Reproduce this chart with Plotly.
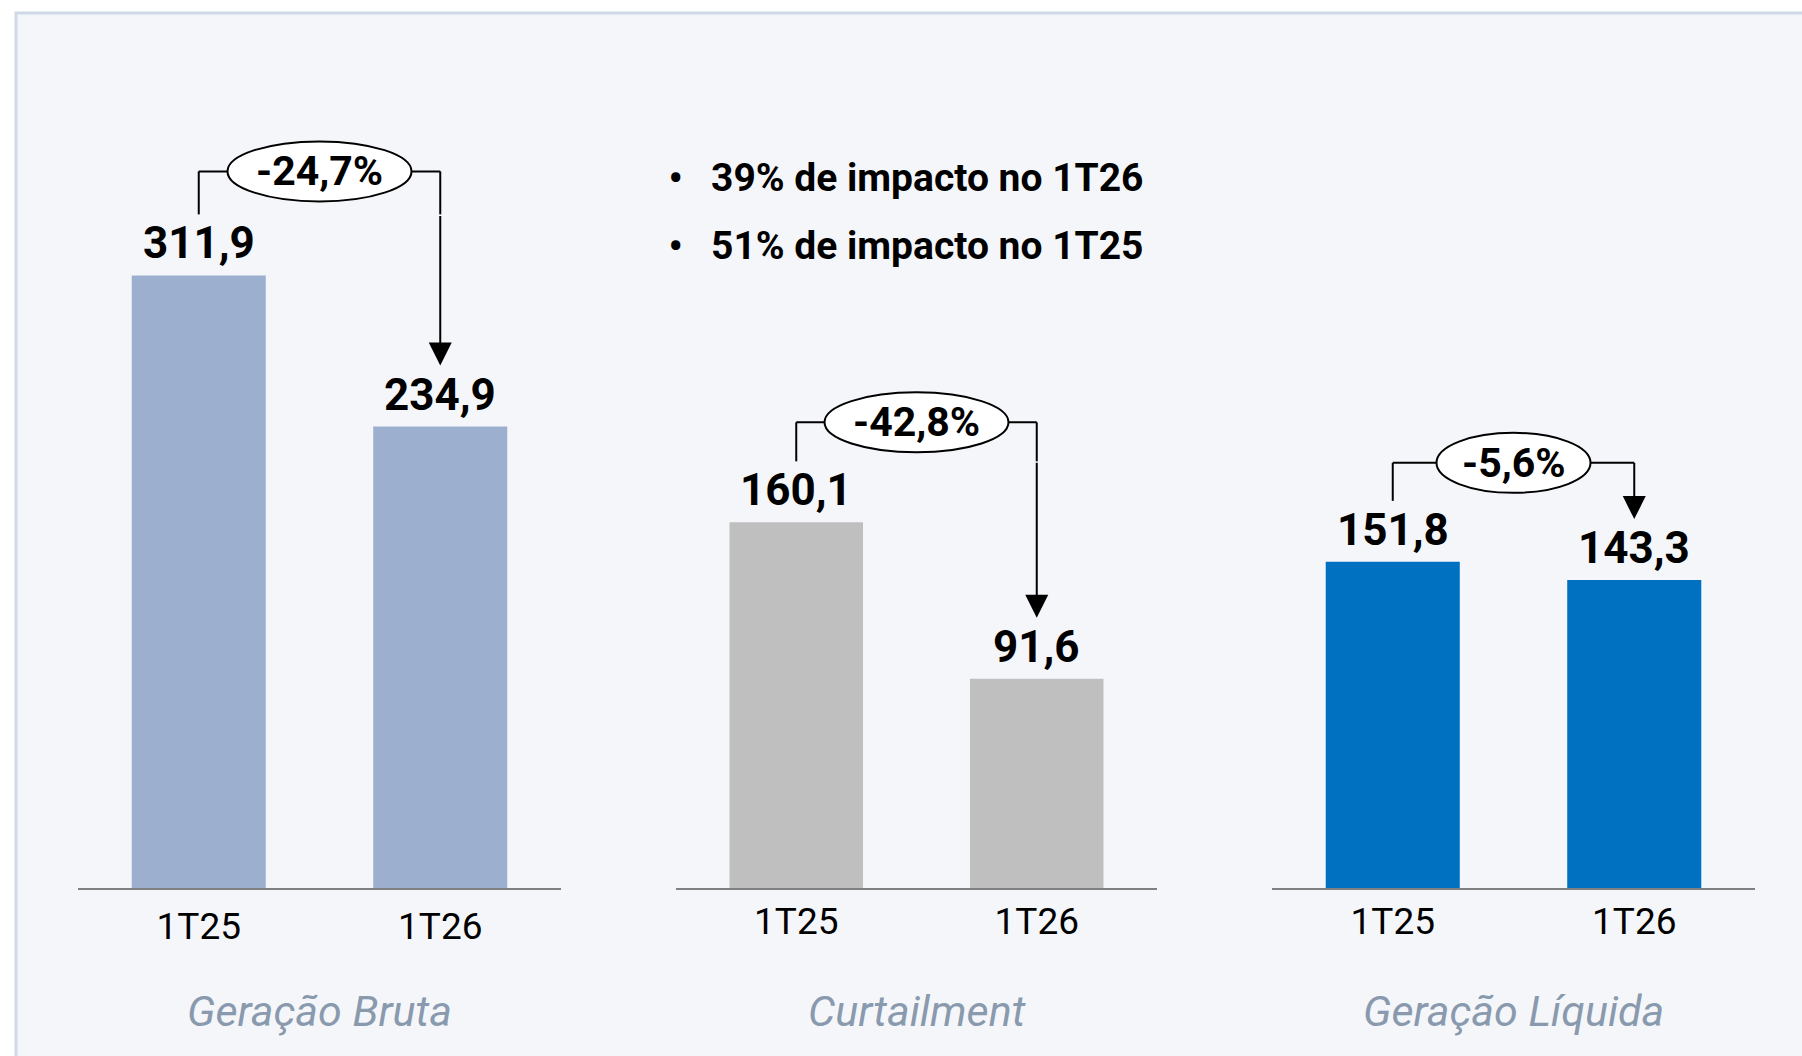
import plotly.graph_objects as go

# ---------------- data ----------------
panels = ["Geração Bruta", "Curtailment", "Geração Líquida"]
periods = ["1T25", "1T26"]
geracao_bruta = [311.9, 234.9]
curtailment = [160.1, 91.6]
geracao_liquida = [151.8, 143.3]
variacoes = ["-24,7%", "-42,8%", "-5,6%"]
notas = ["39% de impacto no 1T26", "51% de impacto no 1T25"]

series = [geracao_bruta, curtailment, geracao_liquida]

# ---------------- layout / style ----------------
W, H = 1802, 1056
colors = ["#9DAFCE", "#BFBFBF", "#0070C0"]
x_domains_px = [(78, 561), (676, 1157), (1272, 1755)]
baseline_px = 888
y_max = [452.1, 388.8, 413.3]
tick_standoff = [5, 0, 0]
bracket_high = [104, 100, 99]
FONT_B = "Roboto"
bar_width = 0.555

fig = go.Figure()

def fmt(v):
    return f"{v:.1f}".replace(".", ",")

y_dom = [1 - baseline_px / H, 1]

for i, (name, vals) in enumerate(zip(panels, series)):
    sfx = "" if i == 0 else str(i + 1)
    xr, yr = "x" + sfx, "y" + sfx
    fig.add_trace(go.Bar(
        x=periods, y=vals, xaxis=xr, yaxis=yr,
        marker=dict(color=colors[i], line=dict(width=0)),
        width=bar_width, hoverinfo="skip",
    ))
    d0, d1 = x_domains_px[i]
    fig.update_layout(**{
        "xaxis" + sfx: dict(
            domain=[d0 / W, d1 / W], anchor=yr, type="category",
            range=[-0.5, 1.5], showline=True, linecolor="#808080", linewidth=2,
            showgrid=False, zeroline=False, ticks="",
            tickfont=dict(family=FONT_B, size=37, color="#000000"),
            ticklabelstandoff=tick_standoff[i], fixedrange=True,
        ),
        "yaxis" + sfx: dict(
            domain=y_dom, anchor=xr, range=[0, y_max[i]],
            visible=False, showgrid=False, zeroline=False, fixedrange=True,
        ),
    })

    # value labels
    for j, v in enumerate(vals):
        fig.add_annotation(
            x=j, y=v, xref=xr, yref=yr, text=fmt(v), showarrow=False,
            yanchor="middle", yshift=32,
            font=dict(family=FONT_B, size=44, color="#000000", weight="bold"),
        )

    v1, v2 = vals
    LOW, HIGH = 61, bracket_high[i]
    # left vertical of bracket
    fig.add_shape(type="line", xref=xr, yref=yr, x0=0, x1=0,
                  ysizemode="pixel", yanchor=v1, y0=LOW, y1=HIGH,
                  line=dict(color="#000000", width=2))
    # horizontal bracket
    fig.add_shape(type="line", xref=xr, yref=yr, x0=0, x1=1,
                  ysizemode="pixel", yanchor=v1, y0=HIGH, y1=HIGH,
                  line=dict(color="#000000", width=2))
    # upper part of right vertical
    fig.add_shape(type="line", xref=xr, yref=yr, x0=1, x1=1,
                  ysizemode="pixel", yanchor=v1, y0=LOW, y1=HIGH,
                  line=dict(color="#000000", width=2))
    # arrow down to second bar
    fig.add_annotation(
        x=1, y=v2, xref=xr, yref=yr, axref=xr, ayref=yr, ax=1, ay=v1,
        yshift=LOW, text="", showarrow=True, arrowhead=2, arrowsize=2.3,
        arrowwidth=2, arrowcolor="#000000",
    )
    # ellipse with variation
    ew = 184 if len(variacoes[i]) > 5 else 154
    fig.add_shape(type="circle", xref=xr, yref=yr,
                  xsizemode="pixel", ysizemode="pixel",
                  xanchor=0.5, yanchor=v1,
                  x0=-ew / 2, x1=ew / 2, y0=HIGH - 30, y1=HIGH + 30,
                  fillcolor="#FFFFFF", line=dict(color="#000000", width=2))
    fig.add_annotation(
        x=0.5, y=v1, xref=xr, yref=yr, text=variacoes[i], showarrow=False,
        yanchor="middle", yshift=HIGH,
        font=dict(family=FONT_B, size=41, color="#000000", weight="bold"),
    )
    # panel title
    fig.add_annotation(
        x=(d0 + d1) / 2 / W, y=1 - 1011 / H, xref="paper", yref="paper",
        text=name, showarrow=False, xanchor="center", yanchor="middle",
        font=dict(family=FONT_B, size=43, color="#8A9AAE", style="italic"),
    )

# bullet notes
for k, nota in enumerate(notas):
    ypx = [178, 246][k]
    fig.add_annotation(x=676 / W, y=1 - ypx / H, xref="paper", yref="paper",
                       text="•", showarrow=False, xanchor="center", yanchor="middle",
                       font=dict(family=FONT_B, size=46, color="#000000"))
    fig.add_annotation(x=709 / W, y=1 - ypx / H, xref="paper", yref="paper",
                       text=nota, showarrow=False, xanchor="left", yanchor="middle",
                       font=dict(family=FONT_B, size=39, color="#000000", weight="bold"))

# frame / background
fig.add_shape(type="rect", xref="paper", yref="paper", layer="below",
              x0=16 / W, x1=1.02, y0=-0.02, y1=1 - 13 / H,
              fillcolor="#F5F6FA", line=dict(color="#D0DAE7", width=3))

fig.update_layout(
    width=W, height=H, autosize=False,
    margin=dict(l=0, r=0, t=0, b=0),
    paper_bgcolor="#FFFFFF", plot_bgcolor="rgba(0,0,0,0)",
    showlegend=False, separators=",.",
    font=dict(family=FONT_B),
)

fig.write_html(
    "out.html",
    config={"displayModeBar": False},
    post_script="document.body.style.margin='0px';document.body.style.overflow='hidden';",
)
